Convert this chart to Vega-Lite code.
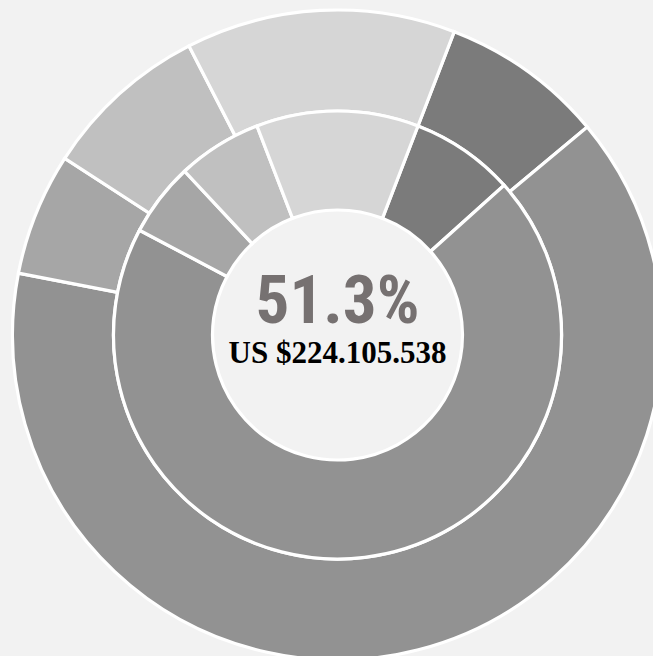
{
  "$schema": "https://vega.github.io/schema/vega-lite/v6.json",
  "width": 631,
  "height": 642,
  "autosize": {"type": "none"},
  "padding": {"left": 22, "top": 14, "right": 0, "bottom": 0},
  "background": "#f2f2f2",
  "config": {"view": {"stroke": null}},
  "datasets": {
    "outer": [
      {"segment": "s1", "rank": 1, "value": 8.1},
      {"segment": "s2", "rank": 2, "value": 64.1},
      {"segment": "s3", "rank": 3, "value": 6.1},
      {"segment": "s4", "rank": 4, "value": 8.3},
      {"segment": "s5", "rank": 5, "value": 13.4}
    ],
    "inner": [
      {"segment": "s1", "rank": 1, "value": 7.5},
      {"segment": "s2", "rank": 2, "value": 69.4},
      {"segment": "s3", "rank": 3, "value": 5.3},
      {"segment": "s4", "rank": 4, "value": 6.1},
      {"segment": "s5", "rank": 5, "value": 11.7}
    ],
    "centre": [
      {"share": "51.3%", "amount": "US $224.105.538"}
    ]
  },
  "layer": [
    {
      "data": {"name": "outer"},
      "mark": {"type": "arc", "radius": 325, "innerRadius": 224, "stroke": "#ffffff", "strokeWidth": 3.2},
      "encoding": {
        "theta": {"field": "value", "type": "quantitative", "stack": true,
                  "scale": {"domain": [0, 100], "range": [0.3674, 6.6506]}},
        "order": {"field": "rank", "type": "quantitative"},
        "color": {"field": "segment", "type": "nominal", "legend": null,
                  "scale": {"domain": ["s1", "s2", "s3", "s4", "s5"],
                            "range": ["#7b7b7b", "#929292", "#a6a6a6", "#c0c0c0", "#d6d6d6"]}}
      }
    },
    {
      "data": {"name": "inner"},
      "mark": {"type": "arc", "radius": 224, "innerRadius": 125, "stroke": "#ffffff", "strokeWidth": 3.2},
      "encoding": {
        "theta": {"field": "value", "type": "quantitative", "stack": true,
                  "scale": {"domain": [0, 100], "range": [0.3674, 6.6506]}},
        "order": {"field": "rank", "type": "quantitative"},
        "color": {"field": "segment", "type": "nominal", "legend": null,
                  "scale": {"domain": ["s1", "s2", "s3", "s4", "s5"],
                            "range": ["#7b7b7b", "#929292", "#a6a6a6", "#c0c0c0", "#d6d6d6"]}}
      }
    },
    {
      "data": {"name": "centre"},
      "mark": {"type": "text", "font": "Roboto Condensed, DejaVu Sans Condensed, sans-serif", "fontWeight": "bold", "fontSize": 67,
               "color": "#767171", "align": "center", "baseline": "alphabetic", "dy": -12},
      "encoding": {"text": {"field": "share", "type": "nominal"}}
    },
    {
      "data": {"name": "centre"},
      "mark": {"type": "text", "font": "Liberation Serif", "fontWeight": "bold", "fontSize": 31,
               "color": "#000000", "align": "center", "baseline": "alphabetic", "dy": 28},
      "encoding": {"text": {"field": "amount", "type": "nominal"}}
    }
  ]
}
